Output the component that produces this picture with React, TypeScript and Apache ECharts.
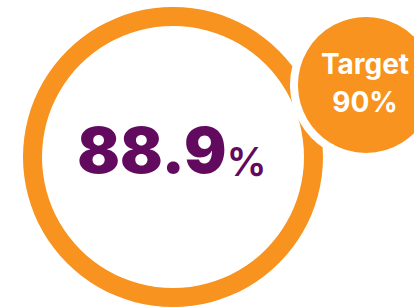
import React, { useEffect, useRef } from "react";
import * as echarts from "echarts";

const actualLabel = ["Actual"];
const actualValues = [88.9];
const targetLabel = ["Target"];
const targetValues = [90];

const ORANGE = "#F7931E";
const PURPLE = "#620A5E";
const FONT = "Inter, 'Open Sans', sans-serif";

export default function App() {
  const ref = useRef<HTMLDivElement>(null);
  useEffect(() => {
    document.body.style.margin = "0";
    const chart = echarts.init(ref.current!, null, { renderer: "svg" });
    chart.setOption({
      animation: false,
      backgroundColor: "#ffffff",
      series: [
        {
          type: "pie",
          center: [173, 157],
          radius: [131, 150],
          silent: true,
          label: { show: false },
          labelLine: { show: false },
          itemStyle: { color: ORANGE },
          data: actualValues.map((v, i) => ({ name: actualLabel[i], value: v })),
        },
        {
          type: "pie",
          center: [366, 85],
          radius: [0, 72],
          silent: true,
          labelLine: { show: false },
          itemStyle: { color: ORANGE, borderColor: "#ffffff", borderWidth: 8 },
          label: {
            show: true,
            position: "center",
            formatter: (p: any) => `${p.name}\n${p.value}%`,
            color: "#ffffff",
            fontFamily: FONT,
            fontWeight: 700,
            fontSize: 28,
            lineHeight: 38,
            offset: [-1, -2],
          },
          data: targetValues.map((v, i) => ({ name: targetLabel[i], value: v })),
        },
      ],
      graphic: [
        {
          type: "text",
          x: 172,
          y: 149,
          style: {
            text: `{a|${actualValues[0]}}{b|%}`,
            align: "center",
            verticalAlign: "middle",
            rich: {
              a: {
                fontFamily: FONT,
                fontWeight: 900,
                fontSize: 63,
                fill: PURPLE,
                verticalAlign: "bottom",
                lineHeight: 64,
              },
              b: {
                fontFamily: FONT,
                fontWeight: 600,
                fontSize: 40,
                fill: PURPLE,
                verticalAlign: "bottom",
                lineHeight: 58,
              },
            },
          },
        },
      ],
    });
    return () => chart.dispose();
  }, []);
  return <div ref={ref} style={{ width: 414, height: 307 }} />;
}
